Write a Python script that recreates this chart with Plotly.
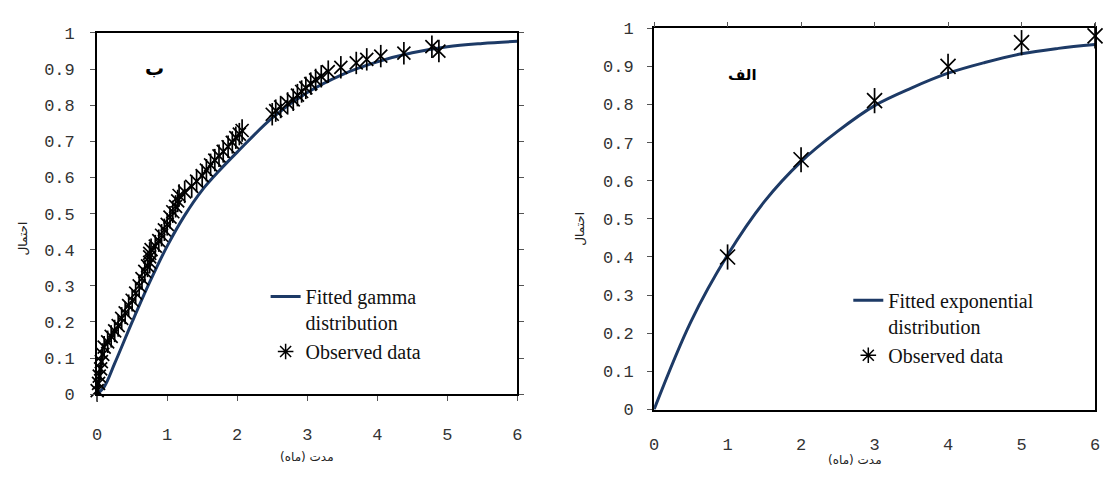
import plotly.graph_objects as go

# ---------------- data ----------------
# Left panel (ب): observed durations vs empirical probability
obs_left_x = [0.00, 0.02, 0.03, 0.05, 0.06, 0.08, 0.10, 0.15, 0.20, 0.25, 0.30, 0.35,
              0.40, 0.45, 0.50, 0.55, 0.60, 0.64, 0.68, 0.72, 0.75, 0.75, 0.75, 0.77,
              0.83, 0.88, 0.92, 0.96, 1.00, 1.04, 1.08, 1.12, 1.15, 1.17, 1.25, 1.35,
              1.42, 1.50, 1.56, 1.62, 1.68, 1.74, 1.80, 1.87, 1.93, 1.98, 2.03, 2.07,
              2.50, 2.55, 2.62, 2.72, 2.80, 2.86, 2.92, 2.98, 3.05, 3.12, 3.20, 3.30,
              3.48, 3.70, 3.85, 4.05, 4.38, 4.78, 4.88]
obs_left_y = [0.01, 0.03, 0.05, 0.07, 0.09, 0.11, 0.13, 0.145, 0.16, 0.175, 0.19, 0.21,
              0.225, 0.245, 0.26, 0.28, 0.30, 0.32, 0.34, 0.355, 0.365, 0.38, 0.39, 0.40,
              0.41, 0.425, 0.44, 0.455, 0.47, 0.49, 0.505, 0.52, 0.535, 0.55, 0.56, 0.575,
              0.59, 0.605, 0.62, 0.635, 0.648, 0.66, 0.672, 0.685, 0.697, 0.71, 0.72, 0.73,
              0.775, 0.785, 0.795, 0.805, 0.815, 0.828, 0.838, 0.848, 0.86, 0.87, 0.88, 0.893,
              0.905, 0.917, 0.927, 0.936, 0.944, 0.962, 0.95]
fit_left_x = [0.0, 0.1, 0.25, 0.5, 0.75, 1.0, 1.25, 1.5, 1.75, 2.0, 2.5, 3.0, 3.5,
              4.0, 4.5, 5.0, 5.5, 6.0]
fit_left_y = [0.0, 0.02, 0.085, 0.20, 0.31, 0.41, 0.495, 0.565, 0.62, 0.67, 0.765, 0.835,
              0.885, 0.92, 0.945, 0.962, 0.971, 0.977]

# Right panel (الف)
obs_right_x = [1, 2, 3, 4, 5, 6]
obs_right_y = [0.40, 0.655, 0.81, 0.90, 0.962, 0.98]
fit_right_x = [0.0, 0.5, 1.0, 1.5, 2.0, 2.5, 3.0, 3.5, 4.0, 4.5, 5.0, 5.5, 6.0]
fit_right_y = [0.0, 0.23, 0.405, 0.545, 0.65, 0.73, 0.797, 0.843, 0.882, 0.91, 0.933, 0.947, 0.957]

x_ticks = [0, 1, 2, 3, 4, 5, 6]
y_ticks = [0, 0.1, 0.2, 0.3, 0.4, 0.5, 0.6, 0.7, 0.8, 0.9, 1]
y_tick_text = ["0", "0.1", "0.2", "0.3", "0.4", "0.5", "0.6", "0.7", "0.8", "0.9", "1"]

ylabel = "احتمال"
xlabel = "مدت (ماه)"
panel_left = "ب"
panel_right = "الف"
leg_fit_left = "Fitted gamma<br>distribution"
leg_fit_right = "Fitted exponential<br>distribution"
leg_obs = "Observed data"

W, H = 1105, 482
LINE_COL = "#1d3a66"
TICK_FONT = dict(family="Liberation Mono", size=17, color="#333333")
LEG_FONT = dict(family="Liberation Serif", size=20, color="#111111")

fig = go.Figure()


def star_traces(xs, ys, size, xa, ya, legend, name):
    # asterisk made of an X and a vertical bar, plus a legend-only entry
    return [
        go.Scatter(x=xs, y=ys, mode="markers", cliponaxis=False, showlegend=False, hoverinfo="skip",
                   marker=dict(symbol="x-thin-open", size=size, color="black", line=dict(color="black", width=1.7)),
                   xaxis=xa, yaxis=ya),
        go.Scatter(x=xs, y=ys, mode="markers", cliponaxis=False, showlegend=False, hoverinfo="skip",
                   marker=dict(symbol="line-ns", size=size + 3, color="black", line=dict(color="black", width=1.7)),
                   xaxis=xa, yaxis=ya),
        go.Scatter(x=[None], y=[None], mode="markers", name=name, legend=legend,
                   marker=dict(symbol="asterisk-open", size=13, color="black", line=dict(color="black", width=1.5)),
                   xaxis=xa, yaxis=ya),
    ]


# ---- left panel ----
fig.add_trace(go.Scatter(x=fit_left_x, y=fit_left_y, mode="lines", line=dict(color=LINE_COL, width=3, shape="spline"),
                         name=leg_fit_left, xaxis="x", yaxis="y", legend="legend"))
for t in star_traces(obs_left_x, obs_left_y, 13, "x", "y", "legend", leg_obs):
    fig.add_trace(t)

# ---- right panel ----
fig.add_trace(go.Scatter(x=fit_right_x, y=fit_right_y, mode="lines", line=dict(color=LINE_COL, width=3, shape="spline"),
                         name=leg_fit_right, xaxis="x2", yaxis="y2", legend="legend2"))
for t in star_traces(obs_right_x, obs_right_y, 15, "x2", "y2", "legend2", leg_obs):
    fig.add_trace(t)

# invisible trace to carry the top tick axis of the right panel
fig.add_trace(go.Scatter(x=[None], y=[None], mode="markers", showlegend=False, xaxis="x3", yaxis="y2", hoverinfo="skip"))


def px_x(p):
    return p / W


def px_y(p):
    return 1 - p / H


axis_common = dict(showgrid=False, zeroline=False, showline=True, linecolor="black", linewidth=2,
                   tickfont=TICK_FONT, tickcolor="#555555", ticklen=5, tickwidth=1)

fig.update_layout(
    width=W, height=H, margin=dict(l=0, r=0, t=0, b=0),
    paper_bgcolor="white", plot_bgcolor="white",
    xaxis=dict(domain=[px_x(93), px_x(517)], range=[0, 6], tickvals=x_ticks, ticks="outside", mirror=True,
               anchor="y", ticklabelstandoff=18, **axis_common),
    yaxis=dict(domain=[px_y(402), px_y(26)], range=[0, 1], tickvals=y_ticks, ticktext=y_tick_text,
               ticks="outside", mirror="ticks", anchor="x", ticklabelstandoff=12, **axis_common),
    xaxis2=dict(domain=[px_x(655), px_x(1100)], range=[0, 6], tickvals=x_ticks, ticks="", mirror=True,
                anchor="y2", ticklabelstandoff=18, **axis_common),
    yaxis2=dict(domain=[px_y(418), px_y(21)], range=[0, 1], tickvals=y_ticks, ticktext=y_tick_text,
                ticks="outside", mirror=True, anchor="x2", ticklabelstandoff=10, **axis_common),
    xaxis3=dict(range=[0, 6], tickvals=x_ticks, ticks="outside", side="top", overlaying="x2", anchor="y2",
                showticklabels=False, showline=False, showgrid=False, zeroline=False,
                tickcolor="#555555", ticklen=5, tickwidth=1),
    legend=dict(x=px_x(263), y=px_y(280), xanchor="left", yanchor="top", bgcolor="rgba(0,0,0,0)",
                font=LEG_FONT, valign="top", tracegroupgap=0, itemwidth=30),
    legend2=dict(x=px_x(851), y=px_y(284), xanchor="left", yanchor="top", bgcolor="rgba(0,0,0,0)",
                 font=LEG_FONT, valign="top", tracegroupgap=0, itemwidth=30),
    showlegend=True,
)

ann_font_small = dict(family="DejaVu Sans", size=12, color="#222222")
annotations = [
    dict(x=px_x(18), y=px_y(240), text=ylabel, textangle=-90, font=ann_font_small),
    dict(x=px_x(580), y=px_y(230), text=ylabel, textangle=-90, font=ann_font_small),
    dict(x=px_x(305), y=px_y(467), text=xlabel, font=ann_font_small),
    dict(x=px_x(858), y=px_y(471), text=xlabel, font=ann_font_small),
    dict(x=px_x(151), y=px_y(62), text="<b>" + panel_left + "</b>", font=dict(family="DejaVu Sans", size=19, color="black")),
    dict(x=px_x(744), y=px_y(70), text="<b>" + panel_right + "</b>", font=dict(family="DejaVu Sans", size=15, color="black")),
]
for a in annotations:
    a.update(xref="paper", yref="paper", showarrow=False, xanchor="center", yanchor="middle")
fig.update_layout(annotations=annotations)

fig.write_html("out.html")
